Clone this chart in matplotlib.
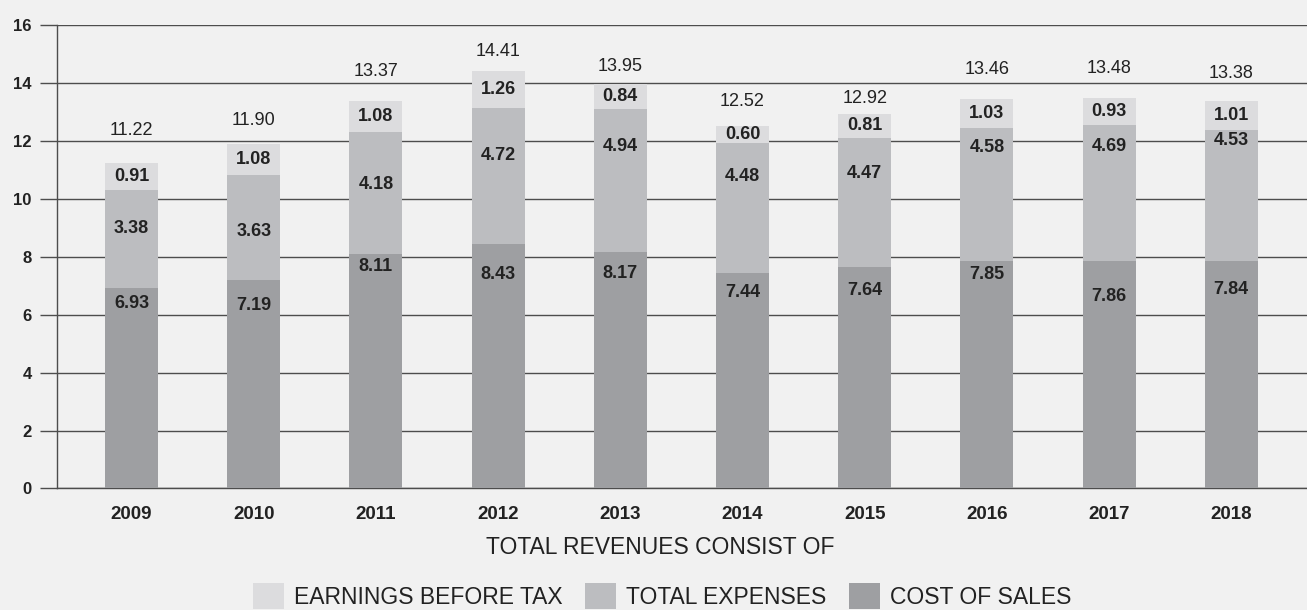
import matplotlib
matplotlib.use("Agg")
import matplotlib.pyplot as plt
import numpy as np

plt.rcParams['font.family'] = ['Liberation Sans', 'DejaVu Sans']

# ---- data ----
years = ['2009', '2010', '2011', '2012', '2013', '2014', '2015', '2016', '2017', '2018']
cost_of_sales = [6.93, 7.19, 8.11, 8.43, 8.17, 7.44, 7.64, 7.85, 7.86, 7.84]
total_expenses = [3.38, 3.63, 4.18, 4.72, 4.94, 4.48, 4.47, 4.58, 4.69, 4.53]
earnings_before_tax = [0.91, 1.08, 1.08, 1.26, 0.84, 0.60, 0.81, 1.03, 0.93, 1.01]
total_revenues = [11.22, 11.90, 13.37, 14.41, 13.95, 12.52, 12.92, 13.46, 13.48, 13.38]
y_ticks = [0, 2, 4, 6, 8, 10, 12, 14, 16]

# ---- label placement (pixels below segment top / above bar top) ----
cost_label_drop = [16, 25, 13, 30, 22, 20, 23, 13, 36, 28]
exp_label_drop = [39, 56, 52, 48, 38, 33, 36, 19, 22, 10]
total_label_rise = [33, 23, 30, 20, 18, 24, 16, 29, 30, 27]

# ---- style ----
c_cost = '#9e9fa2'
c_exp = '#bcbdc0'
c_earn = '#dcdcde'
bg = '#f1f1f1'
grid_c = '#4d4d4d'
txt_c = '#222222'
PX = 0.72  # points per pixel at dpi 100

fig = plt.figure(figsize=(13.07, 6.10), dpi=100, facecolor=bg)
ax = fig.add_axes([0.0434, 0.1992, 0.9566, 0.7598])
ax.set_facecolor('none')

x = np.arange(len(years))
w = 0.434
cost = np.array(cost_of_sales)
exp_ = np.array(total_expenses)
earn = np.array(earnings_before_tax)

b1 = ax.bar(x, cost, w, color=c_cost, zorder=3, label='COST OF SALES')
b2 = ax.bar(x, exp_, w, bottom=cost, color=c_exp, zorder=3, label='TOTAL EXPENSES')
b3 = ax.bar(x, earn, w, bottom=cost + exp_, color=c_earn, zorder=3, label='EARNINGS BEFORE TAX')

for i in range(len(years)):
    ax.annotate(f'{cost_of_sales[i]:.2f}', (x[i], cost[i]), xytext=(0, -cost_label_drop[i] * PX),
                textcoords='offset points', ha='center', va='center', fontsize=13,
                fontweight='bold', color=txt_c, zorder=5)
    ax.annotate(f'{total_expenses[i]:.2f}', (x[i], cost[i] + exp_[i]), xytext=(0, -exp_label_drop[i] * PX),
                textcoords='offset points', ha='center', va='center', fontsize=13,
                fontweight='bold', color=txt_c, zorder=5)
    ax.text(x[i], cost[i] + exp_[i] + earn[i] / 2, f'{earnings_before_tax[i]:.2f}',
            ha='center', va='center', fontsize=13, fontweight='bold', color=txt_c, zorder=5)
    ax.annotate(f'{total_revenues[i]:.2f}', (x[i], cost[i] + exp_[i] + earn[i]),
                xytext=(0, total_label_rise[i] * PX), textcoords='offset points',
                ha='center', va='center', fontsize=13, color=txt_c, zorder=5)

ax.set_xlim(-0.612, 9.62)
ax.set_ylim(0, 16)
ax.set_yticks(y_ticks)
ax.set_yticklabels([str(t) for t in y_ticks], fontsize=12, fontweight='bold', color=txt_c)
ax.set_xticks(x)
ax.set_xticklabels(years, fontsize=13.5, fontweight='bold', color=txt_c)
ax.tick_params(axis='x', length=0, pad=12.5)
ax.tick_params(axis='y', length=12.2, width=1.0, color=grid_c, pad=5.8)

ax.yaxis.grid(True, color=grid_c, linewidth=1.0, zorder=0)
ax.set_axisbelow(True)
for s in ['top', 'right']:
    ax.spines[s].set_visible(False)
ax.spines['left'].set_color(grid_c)
ax.spines['left'].set_linewidth(1.0)
ax.spines['bottom'].set_color(grid_c)
ax.spines['bottom'].set_linewidth(1.0)

fig.text(660 / 1307, 1 - 548 / 610, 'TOTAL REVENUES CONSIST OF', ha='center', va='center',
         fontsize=16.5, color=txt_c)

leg = fig.legend(handles=[b3, b2, b1], labels=['EARNINGS BEFORE TAX', 'TOTAL EXPENSES', 'COST OF SALES'],
                 loc='upper center', bbox_to_anchor=(662 / 1307, 1 - 583 / 610), ncol=3,
                 frameon=False, fontsize=16.5, handlelength=1.35, handleheight=1.35,
                 handletextpad=0.43, columnspacing=1.0, borderpad=0, borderaxespad=0)
for t in leg.get_texts():
    t.set_color(txt_c)

fig.savefig('out.png', dpi=100, facecolor=bg)
